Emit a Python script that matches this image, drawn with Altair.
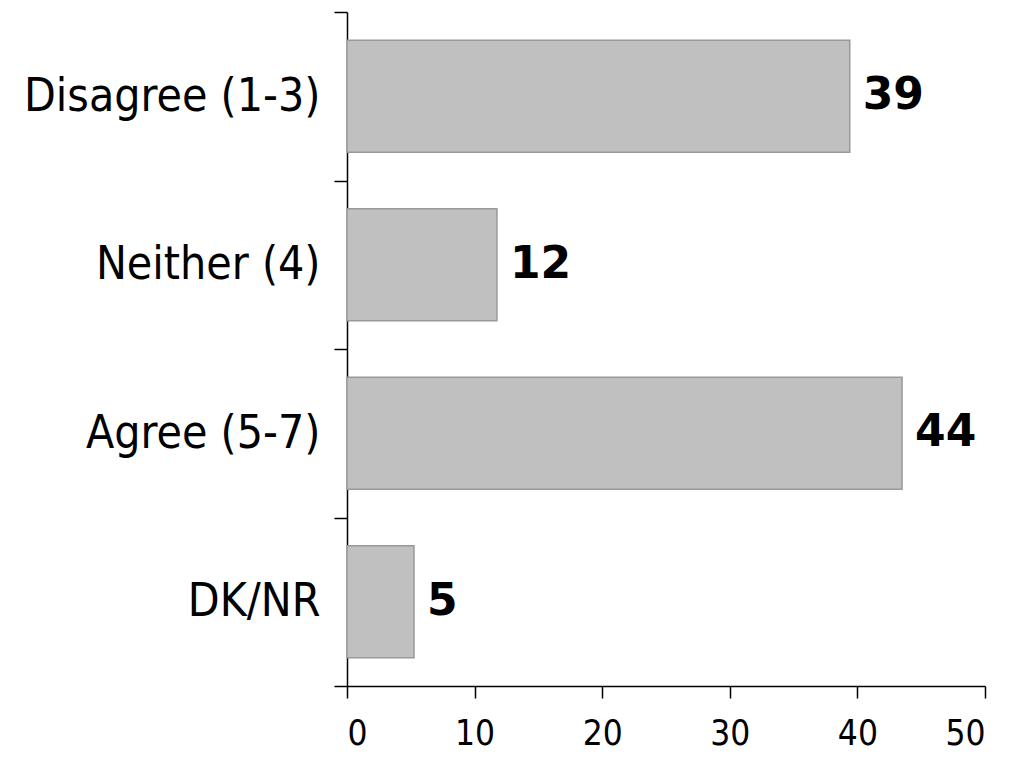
import altair as alt
import pandas as pd

categories = ["Disagree (1-3)", "Neither (4)", "Agree (5-7)", "DK/NR"]
values = [39.4, 11.75, 43.5, 5.25]
labels = ["39", "12", "44", "5"]
x_ticks = [0, 10, 20, 30, 40, 50]

df = pd.DataFrame({"cat": categories, "val": values, "lab": labels})

FONT = "'DejaVu Sans Condensed', 'DejaVu Sans'"

y_scale = alt.Scale(paddingInner=0, paddingOuter=0)
x_scale = alt.Scale(domain=[0, 50], nice=False)

y_enc = alt.Y(
    "cat:N",
    sort=categories,
    title=None,
    scale=y_scale,
    axis=alt.Axis(
        tickBand="extent",
        labelFont=FONT,
        labelFontSize=46,
        labelColor="black",
        labelPadding=14,
        labelLimit=0,
        tickSize=13,
        tickColor="black",
        tickWidth=1.5,
        domainColor="black",
        domainWidth=1.5,
        grid=False,
    ),
)

x_enc = alt.X(
    "val:Q",
    title=None,
    scale=x_scale,
    axis=alt.Axis(
        values=x_ticks,
        labelFont=FONT,
        labelFontSize=35,
        labelColor="black",
        labelPadding=18,
        tickSize=12,
        tickColor="black",
        tickWidth=1.5,
        domainColor="black",
        domainWidth=1.5,
        grid=False,
    ),
)

bars = alt.Chart(df).mark_bar(
    color="#c0c0c0", stroke="#999999", strokeWidth=1.5, height={"band": 0.665}
).encode(x=x_enc, y=y_enc)

text = alt.Chart(df).mark_text(
    align="left", baseline="middle", dx=13,
    font="DejaVu Sans", fontWeight="bold", fontSize=44, color="black"
).encode(
    x=alt.X("val:Q", scale=x_scale),
    y=alt.Y("cat:N", sort=categories, scale=y_scale),
    text="lab:N",
)

chart = (
    alt.layer(bars, text)
    .properties(
        width=638,
        height=674,
        autosize=alt.AutoSizeParams(type="none"),
        padding={"left": 339, "top": 4, "right": 14, "bottom": 66},
        view=alt.ViewBackground(strokeOpacity=0, strokeWidth=0),
    )
    .configure_view(strokeOpacity=0, strokeWidth=0)
    .configure(background="white")
)

chart.save("out.html", embed_options={"renderer": "svg", "actions": False})
